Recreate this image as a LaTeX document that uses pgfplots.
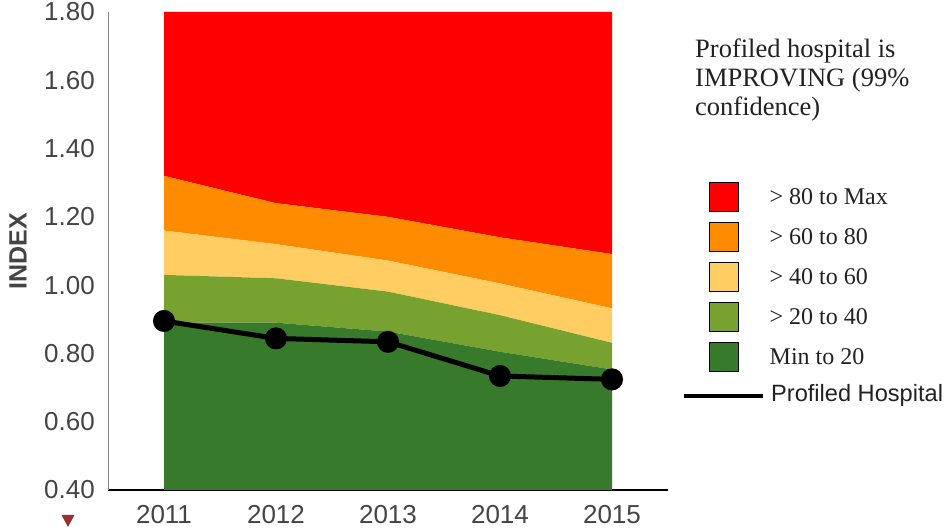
\documentclass[border=0pt]{standalone}
\usepackage{fontspec}
\setmainfont{Liberation Sans}
\newfontfamily\tnr{Liberation Serif}
\usepackage{pgfplots}
\usepackage{pgfplotstable}
\pgfplotsset{compat=1.18}
\usepgfplotslibrary{fillbetween}
\definecolor{cRed}{HTML}{FF0000}
\definecolor{cOrange}{HTML}{FF8C00}
\definecolor{cYellow}{HTML}{FFCD61}
\definecolor{cLGreen}{HTML}{78A22F}
\definecolor{cDGreen}{HTML}{387A2B}
\definecolor{tickgray}{HTML}{444444}
\definecolor{txt}{HTML}{222222}
\definecolor{tri}{HTML}{9B3030}

\pgfplotstableread{
year top b4 b3 b2 b1 bot hosp
2011 1.80 1.320 1.160 1.030 0.890 0.40 0.895
2012 1.80 1.240 1.120 1.020 0.890 0.40 0.844
2013 1.80 1.200 1.072 0.981 0.864 0.40 0.834
2014 1.80 1.140 1.005 0.912 0.805 0.40 0.734
2015 1.80 1.091 0.932 0.831 0.753 0.40 0.724
}\bands

\begin{document}
\begin{tikzpicture}
\path (0pt,0pt) rectangle (946pt,529pt);
\begin{axis}[
  at={(108pt,39pt)}, anchor=south west,
  scale only axis, width=560pt, height=478pt,
  xmin=2010.5, xmax=2015.5, ymin=0.4, ymax=1.8,
  axis x line*=bottom, axis y line*=left,
  x axis line style={-, black, line width=1.3pt},
  y axis line style={-, gray, line width=1pt},
  xtick={2011,2012,2013,2014,2015},
  ytick={0.4,0.6,0.8,1.0,1.2,1.4,1.6,1.8},
  major tick length=0pt,
  /pgf/number format/assume math mode=true,
  tick label style={font=\fontsize{26}{30}\selectfont, text=tickgray, inner sep=0pt},
  xticklabel style={/pgf/number format/set thousands separator={}, anchor=north, yshift=-15pt},
  yticklabel style={/pgf/number format/.cd, fixed, fixed zerofill, precision=2, /tikz/.cd, anchor=east, xshift=-13pt},
  ylabel={\bfseries INDEX},
  ylabel style={at={(axis description cs:0,0.5)}, anchor=center, inner sep=0pt, yshift=90pt, font=\fontsize{25}{30}\selectfont, text=tickgray},
]
\addplot[name path=top, draw=none] table[x=year,y=top]{\bands};
\addplot[name path=b4, draw=none] table[x=year,y=b4]{\bands};
\addplot[name path=b3, draw=none] table[x=year,y=b3]{\bands};
\addplot[name path=b2, draw=none] table[x=year,y=b2]{\bands};
\addplot[name path=b1, draw=none] table[x=year,y=b1]{\bands};
\addplot[name path=bot, draw=none] table[x=year,y=bot]{\bands};
\addplot[fill=cRed, draw=none] fill between[of=top and b4];
\addplot[fill=cOrange, draw=none] fill between[of=b4 and b3];
\addplot[fill=cYellow, draw=none] fill between[of=b3 and b2];
\addplot[fill=cLGreen, draw=none] fill between[of=b2 and b1];
\addplot[fill=cDGreen, draw=none] fill between[of=b1 and bot];
\addplot[black, line width=5pt, mark=*, mark size=8.5pt, mark options={solid}] table[x=year,y=hosp]{\bands};
\end{axis}
% header text
\begin{scope}[every node/.style={inner sep=0pt, anchor=base west, text=txt, font=\tnr\fontsize{26.5}{30}\selectfont}]
\node at (695pt,471pt) {Profiled hospital is};
\node at (695pt,442pt) {IMPROVING (99\%};
\node at (695pt,413pt) {confidence)};
\end{scope}
% legend
\begin{scope}[every node/.style={inner sep=0pt, anchor=west, text=txt, font=\tnr\fontsize{24}{28}\selectfont}]
\filldraw[fill=cRed, draw=black, line width=1.5pt] (709.5pt,317.5pt) rectangle (738.5pt,346.5pt);
\node at (769.5pt,332.5pt) {> 80 to Max};
\filldraw[fill=cOrange, draw=black, line width=1.5pt] (709.5pt,277.5pt) rectangle (738.5pt,306.5pt);
\node at (769.5pt,292.5pt) {> 60 to 80};
\filldraw[fill=cYellow, draw=black, line width=1.5pt] (709.5pt,237.5pt) rectangle (738.5pt,266.5pt);
\node at (769.5pt,252.5pt) {> 40 to 60};
\filldraw[fill=cLGreen, draw=black, line width=1.5pt] (709.5pt,197.5pt) rectangle (738.5pt,226.5pt);
\node at (769.5pt,212.5pt) {> 20 to 40};
\filldraw[fill=cDGreen, draw=black, line width=1.5pt] (709.5pt,157.5pt) rectangle (738.5pt,186.5pt);
\node at (769.5pt,172.5pt) {Min to 20};
\end{scope}
\draw[black, line width=4pt] (684pt,133pt) -- (763pt,133pt);
\node[inner sep=0pt, anchor=west, text=txt, font=\fontsize{23.6}{28}\selectfont] at (771pt,134pt) {Profiled Hospital};
% marker below axis
\fill[tri] (61.5pt,14pt) -- (74.5pt,14pt) -- (68pt,2pt) -- cycle;
\end{tikzpicture}
\end{document}
